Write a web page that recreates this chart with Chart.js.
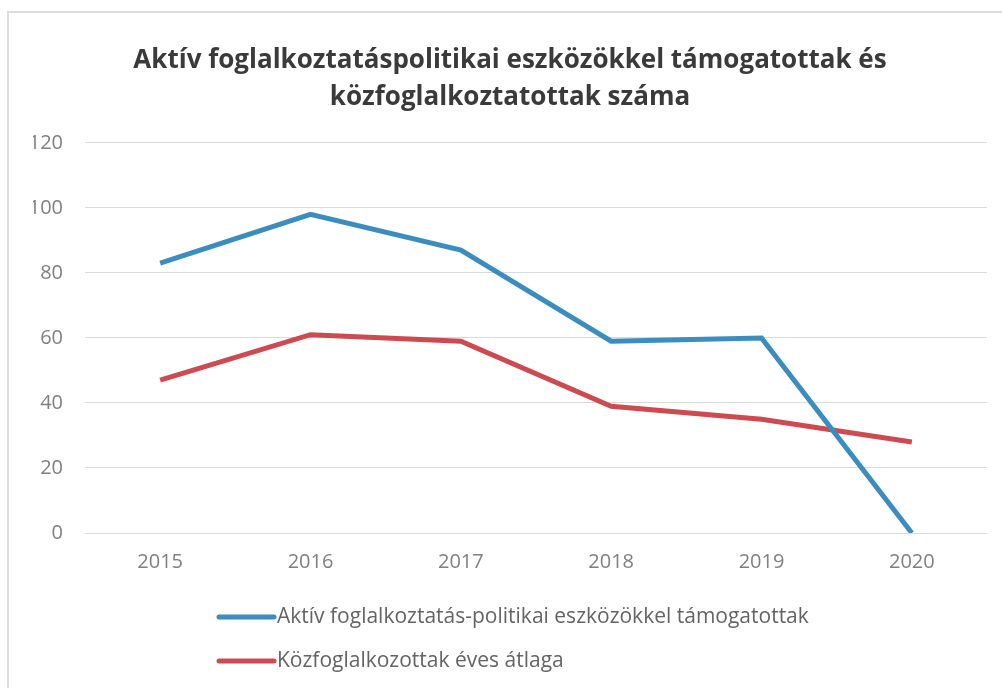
<!DOCTYPE html>
<html lang="hu">
<head>
<meta charset="utf-8">
<title>Aktív foglalkoztatáspolitikai eszközökkel támogatottak</title>
<script src="https://cdn.jsdelivr.net/npm/chart.js@4/dist/chart.umd.min.js"></script>
<style>
    html, body { margin: 0; padding: 0; background: #fff; }
    #keret { position: relative; width: 1002px; height: 688px; overflow: hidden; }
    #szegely { position: absolute; left: 7px; top: 11px; width: 1100px; height: 800px;
               border-left: 2px solid #dcdcdc; border-top: 2px solid #dcdcdc; }
    canvas { position: absolute; left: 0; top: 0; }
</style>
</head>
<body>
<div id="keret">
    <div id="szegely"></div>
    <canvas id="grafikon" width="1002" height="688"></canvas>
</div>
<script>
const evek = ['2015', '2016', '2017', '2018', '2019', '2020'];
const aktivTamogatottak = [83, 98, 87, 59, 60, 0];
const kozfoglalkoztatottak = [47, 61, 59, 39, 35, 28];
const cimSorok = ['Aktív foglalkoztatáspolitikai eszközökkel támogatottak és', 'közfoglalkoztatottak száma'];
const cimkek = ['Aktív foglalkoztatás-politikai eszközökkel támogatottak', 'Közfoglalkozottak éves átlaga'];

// jelmagyarázat egymás alatt, a diagram alatt
const listaJelmagyarazat = {
    id: 'listaJelmagyarazat',
    afterDraw(chart) {
        const ctx = chart.ctx;
        ctx.save();
        ctx.font = '21px "Open Sans"';
        ctx.textBaseline = 'middle';
        chart.data.datasets.forEach((ds, i) => {
            const y = 617 + i * 44;
            ctx.strokeStyle = ds.borderColor;
            ctx.lineWidth = 5;
            ctx.lineCap = 'round';
            ctx.beginPath();
            ctx.moveTo(219, y);
            ctx.lineTo(274, y);
            ctx.stroke();
            ctx.fillStyle = '#646464';
            ctx.fillText(ds.label, 277, y);
        });
        ctx.restore();
    }
};

new Chart(document.getElementById('grafikon'), {
    type: 'line',
    data: {
        labels: evek,
        datasets: [
            {
                label: cimkek[0],
                data: aktivTamogatottak,
                borderColor: '#3b8dc0',
                borderWidth: 5,
                pointRadius: 0,
                fill: false,
                tension: 0,
            },
            {
                label: cimkek[1],
                data: kozfoglalkoztatottak,
                borderColor: '#cc4a50',
                borderWidth: 5,
                pointRadius: 0,
                fill: false,
                tension: 0,
            },
        ],
    },
    options: {
        responsive: false,
        animation: false,
        layout: { padding: { left: 33, right: 15, top: 0, bottom: 97 } },
        plugins: {
            legend: { display: false },
            tooltip: { enabled: false },
            title: {
                display: true,
                text: cimSorok,
                color: '#3a3a3a',
                font: { family: 'Open Sans', size: 26, weight: 'bold', lineHeight: 1.42 },
                padding: { top: 42, bottom: 27 },
            },
        },
        scales: {
            x: {
                offset: true,
                grid: { display: false, drawTicks: false },
                border: { display: false },
                ticks: { color: '#808080', font: { family: 'Open Sans', size: 20 }, padding: 17 },
            },
            y: {
                min: 0,
                max: 120,
                afterFit(scale) { scale.width = 52; },
                grid: { color: '#dadada', lineWidth: 1, drawTicks: false },
                border: { display: false },
                ticks: { stepSize: 20, color: '#808080', font: { family: 'Open Sans', size: 20 }, padding: 22 },
            },
        },
    },
    plugins: [listaJelmagyarazat],
});
</script>
</body>
</html>
